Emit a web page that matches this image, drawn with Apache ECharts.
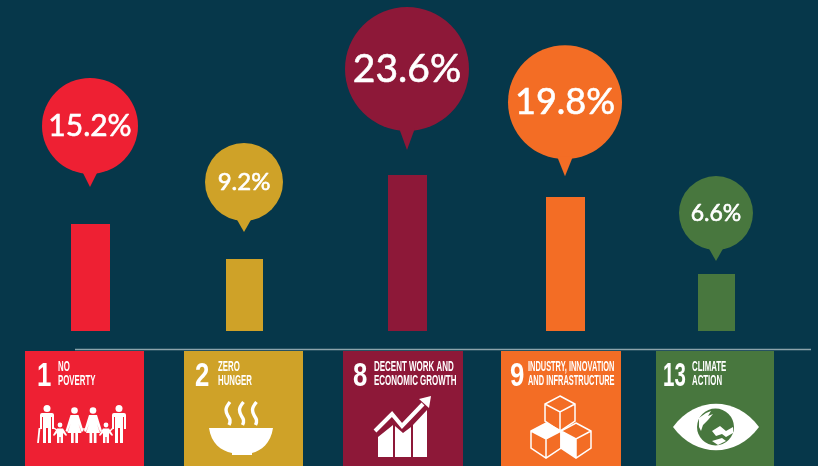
<!DOCTYPE html>
<html>
<head>
<meta charset="utf-8">
<style>html,body{margin:0;padding:0;background:#06374a}#c{width:818px;height:466px}</style>
<script src="https://cdn.jsdelivr.net/npm/echarts@6/dist/echarts.min.js"></script>
</head>
<body>
<div id="c"></div>
<script>
// Share of contributions per Sustainable Development Goal
const goals = ['No Poverty', 'Zero Hunger', 'Decent Work and Economic Growth', 'Industry, Innovation and Infrastructure', 'Climate Action'];
const shares = [15.2, 9.2, 23.6, 19.8, 6.6];

// Layout of the marks, in pixels
const goalColors = ['#ee2033', '#cfa228', '#8d1838', '#f36d25', '#48773e'];
const barNudge = [4, -1, 3, 2, -6];
const barWidths = [39, 37, 39, 39, 37];
const bubbleRadius = [48, 39, 62, 57, 37];
const bubbleLift = [98, 77, 106, 95, 61];
const pointerLength = [13, 11, 19, 17, 11];
const labelSizes = [30, 24, 39, 36, 23];

const chart = echarts.init(document.getElementById('c'));
const Y_MIN = -3.16;
const Y_MAX = 30;
const PX_PER_UNIT = 5.83;
const WHITE = '#ffffff';

function drawBar(params, api) {
  const i = api.value(0);
  const top = api.coord([i, api.value(1)]);
  const base = api.coord([i, Y_MIN]);
  const w = barWidths[i];
  const left = Math.round(top[0] + barNudge[i] - w / 2);
  return {
    type: 'rect',
    shape: { x: left, y: Math.round(top[1]), width: w, height: Math.round(base[1]) - Math.round(top[1]) },
    style: { fill: goalColors[i] }
  };
}

function drawBubble(params, api) {
  const i = api.value(0);
  const v = api.value(1);
  const top = api.coord([i, v]);
  const cx = top[0] + barNudge[i];
  const r = bubbleRadius[i];
  const cy = top[1] - bubbleLift[i];
  const edge = cy + r;
  return {
    type: 'group',
    children: [
      { type: 'circle', shape: { cx: cx, cy: cy, r: r }, style: { fill: goalColors[i] } },
      { type: 'polygon', shape: { points: [[cx - 8, edge - 3], [cx + 8, edge - 3], [cx, edge + pointerLength[i]]] }, style: { fill: goalColors[i] } },
      { type: 'text', style: {
          x: cx, y: cy, text: v.toFixed(1) + '%', fill: WHITE, stroke: WHITE, lineWidth: 0.6,
          font: labelSizes[i] + 'px Lato, sans-serif', align: 'center', verticalAlign: 'middle'
        } }
    ]
  };
}

// Goal tiles under the rule: number, two-line title, white pictogram
const tiles = [
  { x: 25, w: 119, num: '1', nx: 37, nsx: 0.78, lines: ['NO', 'POVERTY'], tx: 58, sx: 0.56 },
  { x: 184, w: 119, num: '2', nx: 195, nsx: 0.78, lines: ['ZERO', 'HUNGER'], tx: 218, sx: 0.56 },
  { x: 343, w: 120, num: '8', nx: 353, nsx: 0.78, lines: ['DECENT WORK AND', 'ECONOMIC GROWTH'], tx: 374, sx: 0.57 },
  { x: 501, w: 120, num: '9', nx: 510, nsx: 0.78, lines: ['INDUSTRY, INNOVATION', 'AND INFRASTRUCTURE'], tx: 528, sx: 0.53 },
  { x: 656, w: 118, num: '13', nx: 663, nsx: 0.62, lines: ['CLIMATE', 'ACTION'], tx: 692, sx: 0.56 }
];

const NARROW = '"Liberation Sans Narrow", "Liberation Sans", sans-serif';

function tileGraphics() {
  const out = [];
  tiles.forEach((t, i) => {
    out.push({ type: 'rect', silent: true, shape: { x: t.x, y: 351, width: t.w, height: 115 }, style: { fill: goalColors[i] } });
    out.push({
      type: 'text', silent: true, x: t.nx, y: 360, scaleX: t.nsx,
      style: { text: t.num, fill: WHITE, font: 'bold 33px ' + NARROW }
    });
    t.lines.forEach((s, k) => {
      out.push({
        type: 'text', silent: true, x: t.tx, y: 360 + k * 14.5, scaleX: t.sx,
        style: { text: s, fill: WHITE, font: 'bold 14px ' + NARROW }
      });
    });
  });
  // horizontal rule above the tiles
  out.push({ type: 'line', silent: true, shape: { x1: 75, y1: 349.5, x2: 811, y2: 349.5 }, style: { stroke: '#8ca3aa', lineWidth: 1.5 } });
  return out;
}

const fillPath = d => ({ type: 'path', shape: { pathData: d }, style: { fill: WHITE } });
const strokePath = (d, w) => ({ type: 'path', shape: { pathData: d }, style: { stroke: WHITE, fill: 'none', lineWidth: w } });
const head = (cx, cy, r) => ({ type: 'circle', shape: { cx: cx, cy: cy, r: r }, style: { fill: WHITE } });

function man(cx) {
  return [head(cx, 408.5, 3.5),
    fillPath(`M${cx - 7} 415 Q${cx - 7} 413 ${cx - 5} 413 L${cx + 5} 413 Q${cx + 7} 413 ${cx + 7} 415 L${cx + 7} 429 L${cx + 5} 429 L${cx + 5} 417 L${cx + 4} 417 L${cx + 4} 443 L${cx + 1} 443 L${cx + 1} 428 L${cx - 1} 428 L${cx - 1} 443 L${cx - 4} 443 L${cx - 4} 417 L${cx - 5} 417 L${cx - 5} 429 L${cx - 7} 429 Z`)];
}
function woman(cx) {
  return [head(cx, 410.5, 3.3),
    fillPath(`M${cx - 4} 415 L${cx + 4} 415 L${cx + 9} 431 L${cx + 7} 432 L${cx + 4} 424 L${cx + 7} 433 L${cx + 3.5} 433 L${cx + 3.5} 443 L${cx + 0.8} 443 L${cx + 0.8} 433 L${cx - 0.8} 433 L${cx - 0.8} 443 L${cx - 3.5} 443 L${cx - 3.5} 433 L${cx - 7} 433 L${cx - 4} 424 L${cx - 7} 432 L${cx - 9} 431 Z`)];
}
function child(cx) {
  return [head(cx, 425, 2.4),
    fillPath(`M${cx - 3} 428.5 L${cx + 3} 428.5 L${cx + 7} 435 L${cx + 6} 436 L${cx + 3} 433 L${cx + 3} 443 L${cx + 0.6} 443 L${cx + 0.6} 437 L${cx - 0.6} 437 L${cx - 0.6} 443 L${cx - 3} 443 L${cx - 3} 433 L${cx - 6} 436 L${cx - 7} 435 Z`)];
}

function cube(ax, ay, filled) {
  const s = strokePath(`M${ax} ${ay} L${ax + 15} ${ay + 8} L${ax + 15} ${ay + 25} L${ax} ${ay + 35} L${ax - 15} ${ay + 25} L${ax - 15} ${ay + 8} Z M${ax - 15} ${ay + 8} L${ax} ${ay + 16} L${ax + 15} ${ay + 8} M${ax} ${ay + 16} L${ax} ${ay + 35}`, 1.5);
  return filled ? [s, fillPath(filled)] : [s];
}

// Pictograms drawn on top of the tiles
function drawPictograms() {
  let kids = [];
  kids = kids.concat(man(47), child(60), woman(74.5), woman(93), child(106), man(119));
  kids.push(strokePath('M39.5 428 L38 443', 1.8), strokePath('M54 428 L58 431', 1.4), strokePath('M82 429 L85 429', 1.4), strokePath('M110 431 L113 428', 1.4));
  // bowl with steam
  kids.push(fillPath('M209 428 L273 428 C271 443 261 451 252 453 L252 455 L232 455 L232 453 C221 451 211 443 209 428 Z'));
  [228, 241.5, 254.5].forEach(x => {
    kids.push(strokePath(`M${x + 2} 402 C${x - 4} 409 ${x - 2} 412 ${x} 416 C${x + 2} 419 ${x + 3} 421 ${x + 1} 425`, 3.4));
  });
  // rising columns and arrow
  kids.push(fillPath('M378 437 L393 425 L393 457 L378 457 Z M395 426 L403 433 L411 427 L411 457 L395 457 Z M413 425 L427 410 L427 457 L413 457 Z'));
  kids.push(strokePath('M375 431 L392 414 L402 426 L423 404', 4));
  kids.push(fillPath('M419 399 L431 396 L429 408 Z'));
  // stacked cubes
  kids = kids.concat(
    cube(560, 396),
    cube(546, 423, 'M546 423 L561 431 L546 439 L531 431 Z'),
    cube(576, 423, 'M561 431 L576 439 L576 458 L561 448 Z')
  );
  // eye with globe
  kids.push(fillPath('M673 427 C696 396 736 396 759 427 C736 458 696 458 673 427 Z'));
  kids.push({ type: 'circle', shape: { cx: 715.5, cy: 427, r: 18.5 }, style: { fill: goalColors[4] } });
  kids.push(fillPath('M699 418 L706 413 L711 411 L708 416 L713 414 L708 420 L703 425 L701 431 L699 427 Z'));
  kids.push(fillPath('M712 431 L720 426 L726 431 L733 427 L733 433 L726 437 L722 434 L716 436 Z'));
  kids.push(fillPath('M712 441 L722 438 L726 441 L718 445 Z'));
  return { type: 'group', children: kids };
}

chart.setOption({
  animation: false,
  backgroundColor: '#06374a',
  grid: { left: 6.5, right: 16.5, top: 331 - (Y_MAX - Y_MIN) * PX_PER_UNIT, bottom: 135 },
  graphic: { elements: tileGraphics() },
  xAxis: { type: 'category', data: goals, axisLine: { show: false }, axisTick: { show: false }, axisLabel: { show: false } },
  yAxis: { type: 'value', min: Y_MIN, max: Y_MAX, show: false, splitLine: { show: false } },
  series: [
    { type: 'custom', name: 'bars', data: shares.map((v, i) => [i, v]), renderItem: drawBar, clip: false, encode: { x: 0, y: 1 } },
    { type: 'custom', name: 'bubbles', data: shares.map((v, i) => [i, v]), renderItem: drawBubble, clip: false, encode: { x: 0, y: 1 } },
    { type: 'custom', name: 'pictograms', data: [[0, 0]], renderItem: drawPictograms, clip: false, silent: true, encode: { x: 0, y: 1 } }
  ]
});
</script>
</body>
</html>
